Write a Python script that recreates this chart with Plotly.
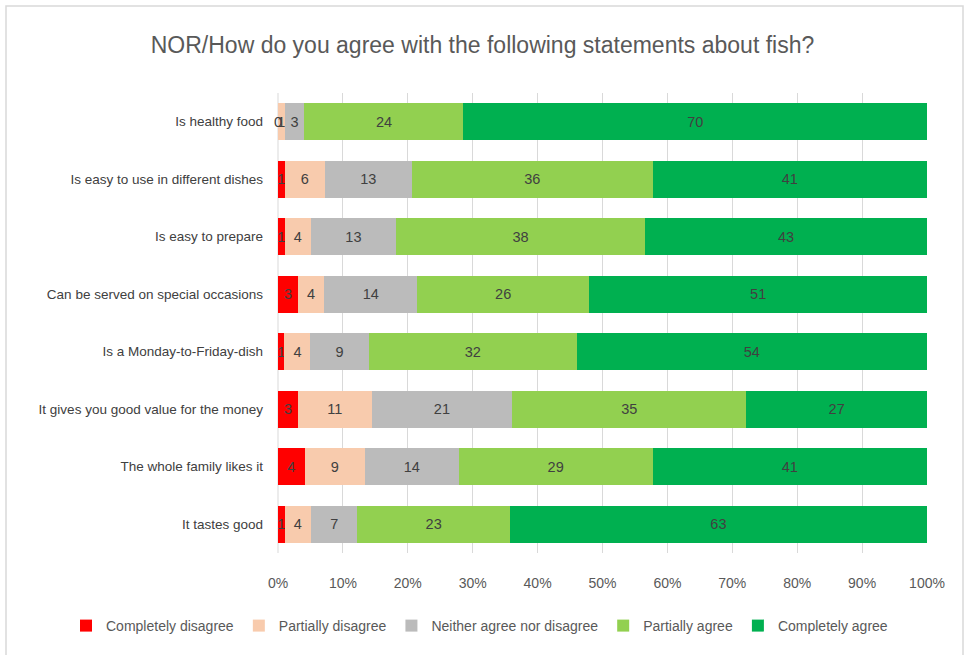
import plotly.graph_objects as go

statements = [
    "It tastes good",
    "The whole family likes it",
    "It gives you good value for the money",
    "Is a Monday-to-Friday-dish",
    "Can be served on special occasions",
    "Is easy to prepare",
    "Is easy to use in different dishes",
    "Is healthy food",
]

completely_disagree = [1, 4, 3, 1, 3, 1, 1, 0]
partially_disagree = [4, 9, 11, 4, 4, 4, 6, 1]
neither = [7, 14, 21, 9, 14, 13, 13, 3]
partially_agree = [23, 29, 35, 32, 26, 38, 36, 24]
completely_agree = [63, 41, 27, 54, 51, 43, 41, 70]

series = [
    ("Completely disagree", completely_disagree, "#ff0000"),
    ("Partially disagree", partially_disagree, "#f8cbad"),
    ("Neither agree nor disagree", neither, "#bbbbbb"),
    ("Partially agree", partially_agree, "#92d050"),
    ("Completely agree", completely_agree, "#00b050"),
]

FONT = "Liberation Sans, Arial, sans-serif"
TXT = "#595959"
LABEL = "#404040"

# plot area in pixels
L, R, T, B = 278, 38, 93, 102
PW, PH = 965 - L - R, 655 - T - B

fig = go.Figure()
for name, vals, color in series:
    fig.add_trace(go.Bar(
        y=statements, x=vals, name=name, orientation="h",
        marker=dict(color=color, line=dict(width=0)),
        text=[str(v) for v in vals], textposition="inside",
        insidetextanchor="middle",
        textfont=dict(color=LABEL, size=14.5, family=FONT),
        constraintext="none", cliponaxis=False,
    ))

# zero-width segments get no bar text, so label them at the bar's left edge
annotations = []
for name, vals, color in series[:1]:
    for cat, v in zip(statements, vals):
        if v == 0:
            annotations.append(dict(
                x=0, y=cat, xref="x", yref="y", text=str(v), showarrow=False,
                xanchor="center", font=dict(color=LABEL, size=14.5, family=FONT)))

fig.update_layout(
    barmode="stack", barnorm="percent", bargap=0.35,
    width=965, height=655,
    margin=dict(l=L, r=R, t=T, b=B, autoexpand=False),
    paper_bgcolor="white", plot_bgcolor="white",
    font=dict(family=FONT, color=TXT, size=14),
    title=dict(text="NOR/How do you agree with the following statements about fish?",
               x=0.5, xref="container", y=0.932, yanchor="middle",
               font=dict(size=23, color=TXT, family=FONT)),
    uniformtext=dict(minsize=14.5, mode="show"),
    # anchored left of the plot area so the single row may use the full width
    legend=dict(orientation="h", x=(66 - L) / PW, xref="paper", xanchor="left",
                y=(655 - B - 626) / PH, yref="paper", yanchor="middle",
                traceorder="normal", itemwidth=30,
                font=dict(size=14, color=TXT, family=FONT)),
    annotations=annotations,
    xaxis=dict(range=[0, 100], tickvals=list(range(0, 101, 10)),
               ticktext=[f"{v}%" for v in range(0, 101, 10)],
               showgrid=True, gridcolor="#d9d9d9", gridwidth=1,
               zeroline=False, showline=False, ticks="", automargin=False,
               tickfont=dict(size=14, color=TXT), ticklabelstandoff=20),
    yaxis=dict(showgrid=False, zeroline=False, showline=False, ticks="",
               automargin=False,
               tickfont=dict(size=13.5, color=LABEL), ticklabelstandoff=14),
    shapes=[
        dict(type="rect", xref="paper", yref="paper",
             x0=(6 - L) / PW, x1=(963 - L) / PW,
             y0=(655 - B - 660) / PH, y1=(655 - B - 6) / PH,
             line=dict(color="#d9d9d9", width=1.5), layer="below"),
        dict(type="line", xref="paper", yref="paper", x0=0, x1=0, y0=0, y1=1,
             line=dict(color="#d9d9d9", width=1), layer="below"),
    ],
)

fig.write_html("out.html")
